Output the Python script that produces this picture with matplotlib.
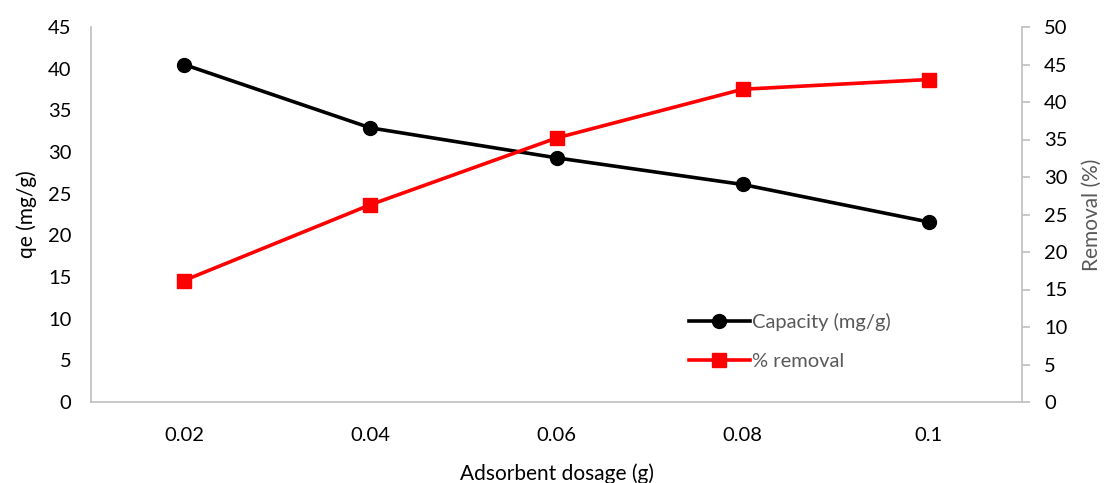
import numpy as np
import matplotlib.pyplot as plt

plt.rcParams['font.family'] = ['Lato', 'DejaVu Sans']

dosage = ["0.02", "0.04", "0.06", "0.08", "0.1"]
capacity = [40.5, 32.9, 29.3, 26.1, 21.6]
removal = [16.2, 26.3, 35.2, 41.7, 43.0]

grey = '#BFBFBF'
txt = '#595959'

fig = plt.figure(figsize=(11.07, 4.83), dpi=100)
ax = fig.add_axes([91/1107, 81/483, 931/1107, 375/483])
ax2 = ax.twinx()

x = np.arange(len(dosage))
l1, = ax.plot(x, capacity, color='black', lw=2.6, marker='o', ms=10, label='Capacity (mg/g)', zorder=3)
l2, = ax2.plot(x, removal, color='#FF0000', lw=2.6, marker='s', ms=10, label='% removal', zorder=3)

ax.set_xlim(-0.5, 4.5)
ax.set_ylim(0, 45)
ax.set_yticks(np.arange(0, 46, 5))
ax2.set_ylim(0, 50)
ax2.set_yticks(np.arange(0, 51, 5))
ax.set_xticks(x)
ax.set_xticklabels(dosage)

for a in (ax, ax2):
    for s in a.spines.values():
        s.set_visible(False)
ax.spines['left'].set_visible(True)
ax.spines['left'].set_color(grey)
ax.spines['bottom'].set_visible(True)
ax.spines['bottom'].set_color(grey)
ax2.spines['right'].set_visible(True)
ax2.spines['right'].set_color(grey)
ax.spines['left'].set_linewidth(1.2)
ax.spines['bottom'].set_linewidth(1.2)
ax2.spines['right'].set_linewidth(1.2)

ax.tick_params(axis='y', length=0, labelsize=14.5, pad=14, colors='black')
ax.tick_params(axis='x', length=0, labelsize=14.5, pad=18)
ax2.tick_params(axis='y', length=6, width=1.2, color=grey, labelsize=14.5, pad=10, labelcolor='black')

ax.set_ylabel('qe (mg/g)', fontsize=15, labelpad=8)
ax.set_xlabel('Adsorbent dosage (g)', fontsize=15, labelpad=14)
ax2.set_ylabel('Removal (%)', fontsize=15, color=txt, labelpad=10)

leg = ax.legend(handles=[l1, l2], loc='upper left', bbox_to_anchor=(671/1107, 1 - 295/483),
                bbox_transform=fig.transFigure, frameon=False, fontsize=14.5,
                handlelength=3.0, handletextpad=0.1, labelspacing=1.1)
for t in leg.get_texts():
    t.set_color(txt)

fig.savefig('out.png', dpi=100)
